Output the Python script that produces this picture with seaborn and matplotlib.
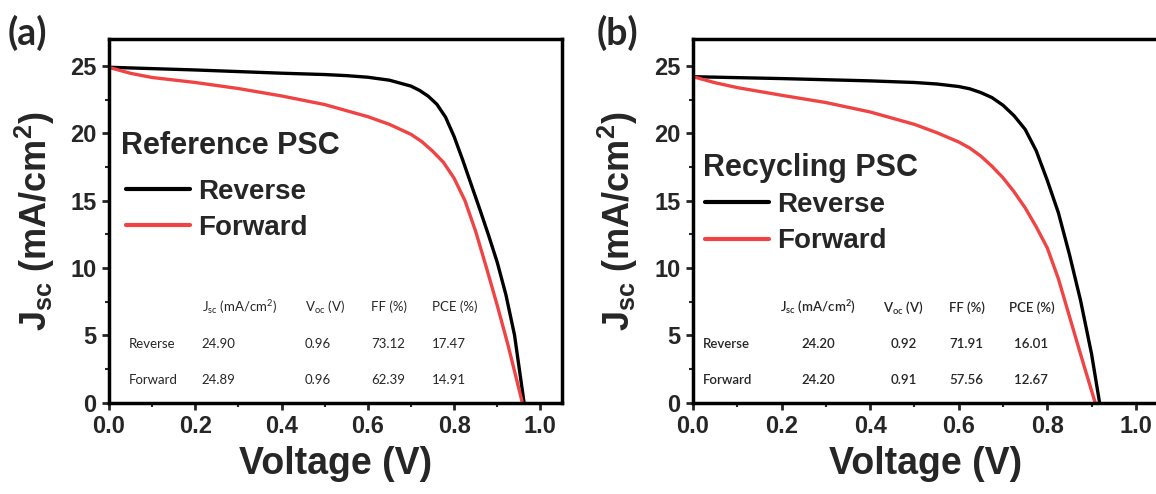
import matplotlib
matplotlib.use("Agg")
import matplotlib.pyplot as plt
from matplotlib.ticker import MultipleLocator
from matplotlib.font_manager import FontProperties
import seaborn as sns

# J-V curves, reference cell
ref_rev_v = [0.0, 0.1, 0.2, 0.3, 0.4, 0.5, 0.55, 0.6, 0.65, 0.7, 0.72, 0.74, 0.76,
             0.78, 0.8, 0.82, 0.84, 0.86, 0.88, 0.9, 0.92, 0.94, 0.962]
ref_rev_j = [24.90, 24.80, 24.70, 24.58, 24.46, 24.36, 24.28, 24.16, 23.94, 23.50,
             23.18, 22.75, 22.15, 21.20, 19.75, 18.00, 16.15, 14.30, 12.40, 10.40,
             8.00, 5.00, 0.0]
ref_fwd_v = [0.0, 0.05, 0.1, 0.2, 0.3, 0.4, 0.5, 0.6, 0.65, 0.7, 0.725, 0.75, 0.775,
             0.8, 0.825, 0.85, 0.875, 0.9, 0.925, 0.958]
ref_fwd_j = [24.89, 24.45, 24.14, 23.77, 23.32, 22.77, 22.13, 21.23, 20.66, 19.92,
             19.38, 18.67, 17.85, 16.65, 15.00, 12.70, 10.00, 7.20, 4.25, 0.0]

# J-V curves, recycled cell
rec_rev_v = [0.0, 0.2, 0.4, 0.5, 0.55, 0.6, 0.625, 0.65, 0.675, 0.7, 0.725, 0.75,
             0.775, 0.8, 0.825, 0.85, 0.875, 0.9, 0.918]
rec_rev_j = [24.20, 24.06, 23.89, 23.77, 23.66, 23.47, 23.30, 23.02, 22.65, 22.08,
             21.30, 20.29, 18.70, 16.50, 14.10, 11.00, 7.60, 3.60, 0.0]
rec_fwd_v = [0.0, 0.05, 0.1, 0.2, 0.3, 0.4, 0.5, 0.55, 0.6, 0.625, 0.65, 0.675, 0.7,
             0.725, 0.75, 0.775, 0.8, 0.825, 0.85, 0.875, 0.908]
rec_fwd_j = [24.20, 23.75, 23.39, 22.82, 22.28, 21.58, 20.66, 20.05, 19.35, 18.90,
             18.30, 17.55, 16.69, 15.65, 14.46, 13.05, 11.48, 9.20, 6.40, 3.60, 0.0]

# photovoltaic parameter tables
table_header = [r"J$_\mathregular{sc}$ (mA/cm$^\mathregular{2}$)", r"V$_\mathregular{oc}$ (V)", "FF (%)", "PCE (%)"]
table_rows = ["Reverse", "Forward"]
ref_table = [["24.90", "0.96", "73.12", "17.47"],
             ["24.89", "0.96", "62.39", "14.91"]]
rec_table = [["24.20", "0.92", "71.91", "16.01"],
             ["24.20", "0.91", "57.56", "12.67"]]

x_ticks = [0.0, 0.2, 0.4, 0.6, 0.8, 1.0]
x_tick_labels = ["0.0", "0.2", "0.4", "0.6", "0.8", "1.0"]
y_ticks = [0, 5, 10, 15, 20, 25]
y_tick_labels = ["0", "5", "10", "15", "20", "25"]

BLACK = "#000000"
RED = "#F04343"
MAIN = ["Liberation Sans", "DejaVu Sans"]
TABLE_FONT = ["Lato", "DejaVu Sans"]

sns.set_style("ticks")
plt.rcParams["font.family"] = MAIN
plt.rcParams["axes.linewidth"] = 2.5

fig = plt.figure(figsize=(11.56, 4.94), dpi=100)
H = 494.0
W = 1156.0
ax_a = fig.add_axes([109 / W, (H - 402.5) / H, 453 / W, 363.5 / H])
ax_b = fig.add_axes([693 / W, (H - 402.5) / H, 465 / W, 363.5 / H])


def style_axes(ax):
    ax.set_xlim(0, 1.05)
    ax.set_ylim(0, 27)
    ax.set_xticks(x_ticks, labels=x_tick_labels, fontweight="bold")
    ax.set_yticks(y_ticks, labels=y_tick_labels, fontweight="bold")
    ax.xaxis.set_minor_locator(MultipleLocator(0.1))
    ax.yaxis.set_minor_locator(MultipleLocator(2.5))
    ax.tick_params(which="major", direction="out", length=5, width=2,
                   labelsize=17, pad=4)
    ax.tick_params(which="minor", direction="out", length=3, width=1.5)
    for s in ax.spines.values():
        s.set_visible(True)
        s.set_linewidth(2.5)
        s.set_color("black")
    ax.set_xlabel("Voltage (V)", fontsize=27, fontweight="bold")
    ax.xaxis.set_label_coords(0.5, -0.12)
    ax.set_ylabel(r"J$_\mathregular{sc}$ (mA/cm$^\mathregular{2}$)",
                  fontsize=26, fontweight="bold")
    ax.yaxis.set_label_coords(-0.114, 0.5)


def draw_panel(ax, rv, rj, fv, fj, title, title_pos, leg_pos):
    sns.lineplot(x=rv, y=rj, ax=ax, color=BLACK, lw=2.4, label="Reverse",
                 sort=False, estimator=None)
    sns.lineplot(x=fv, y=fj, ax=ax, color=RED, lw=2.4, label="Forward",
                 sort=False, estimator=None)
    style_axes(ax)
    ax.text(title_pos[0], title_pos[1], title, transform=ax.transAxes,
            fontsize=22, fontweight="bold", va="baseline", ha="left")
    leg = ax.legend(loc="upper left", bbox_to_anchor=leg_pos, frameon=False,
                    prop=FontProperties(family=MAIN, weight="bold", size=20),
                    handlelength=2.3, handletextpad=0.3, labelspacing=0.38,
                    borderpad=0, borderaxespad=0)
    for h in leg.get_lines():
        h.set_linewidth(3.0)


draw_panel(ax_a, ref_rev_v, ref_rev_j, ref_fwd_v, ref_fwd_j,
           "Reference PSC", (0.0265, 0.6836), (0.0375, 0.616))
draw_panel(ax_b, rec_rev_v, rec_rev_j, rec_fwd_v, rec_fwd_j,
           "Recycling PSC", (0.0215, 0.623), (0.0258, 0.580))

# tables of cell parameters (data coordinates)
row_y = [4.08, 1.355]
head_y = 6.76
tkw = dict(fontsize=9.5, family=TABLE_FONT, va="baseline")

a_cols = [0.215, 0.454, 0.608, 0.749]
for x, h in zip(a_cols, table_header):
    ax_a.text(x, head_y, h, ha="left", **tkw)
for y, name, vals in zip(row_y, table_rows, ref_table):
    ax_a.text(0.045, y, name, ha="left", **tkw)
    for x, v in zip(a_cols, vals):
        ax_a.text(x, y, v, ha="left", **tkw)

b_cols = [0.282, 0.475, 0.618, 0.764]
for x, h in zip(b_cols, table_header):
    ax_b.text(x, head_y, h, ha="center", fontweight="semibold", **tkw)
for y, name, vals in zip(row_y, table_rows, rec_table):
    ax_b.text(0.022, y, name, ha="left", fontweight="semibold", **tkw)
    for x, v in zip(b_cols, vals):
        ax_b.text(x, y, v, ha="center", fontweight="semibold", **tkw)

# panel tags
fig.text(8 / W, 1 - 45 / H, "(a)", fontsize=27, fontweight="bold",
         family=TABLE_FONT, va="baseline", ha="left")
fig.text(597 / W, 1 - 45 / H, "(b)", fontsize=27, fontweight="bold",
         family=TABLE_FONT, va="baseline", ha="left")

fig.savefig("out.png", dpi=100)
